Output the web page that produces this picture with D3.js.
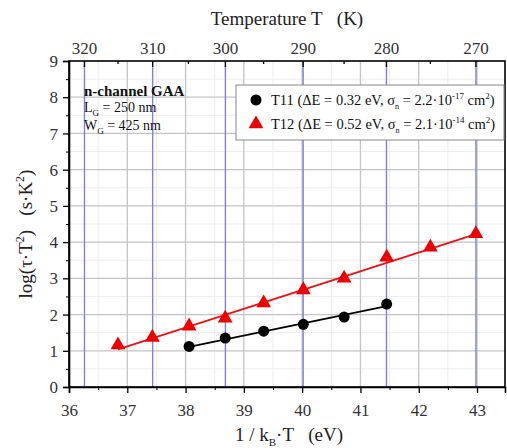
<!DOCTYPE html>
<html><head><meta charset="utf-8">
<script src="https://cdn.jsdelivr.net/npm/d3@7"></script>
<style>body{margin:0;background:#fff}svg, svg text{font-family:"Liberation Serif","Times New Roman",serif !important}</style>
</head><body><svg id="c" width="507" height="448"></svg>
<script>
const xTicks = [36,37,38,39,40,41,42,43];
const yTicks = [0,1,2,3,4,5,6,7,8,9];
const tempTicks = [320,310,300,290,280,270];
const tempMinor = [315,305,295,285,275];
const kB = 8.617e-5;
const t12X = [36.84,37.43,38.06,38.68,39.34,40.02,40.72,41.45,42.20,42.98];
const t12Y = [1.16,1.37,1.68,1.90,2.32,2.68,3.00,3.58,3.86,4.23];
const t11X = [38.06,38.68,39.34,40.02,40.72,41.45];
const t11Y = [1.12,1.35,1.54,1.73,1.93,2.29];
const fit12 = [[36.84,1.04],[42.98,4.22]];
const fit11 = [[38.06,1.11],[41.45,2.23]];

const svg = d3.select('#c');
const L=69, R=505, T=61, B=387;
const x = d3.scaleLinear().domain([36,43.48]).range([L,R]);
const y = d3.scaleLinear().domain([0,9]).range([B,T]);
const tx = t => x(1/(kB*t));

const g = svg.append('g');
const xm = d3.range(36.5,43.5,1), ym = d3.range(0.5,9,1);
g.selectAll('.xm').data(xm).join('line').attr('x1',d=>x(d)).attr('x2',d=>x(d)).attr('y1',T).attr('y2',B).attr('stroke','#ececec').attr('stroke-width',1);
g.selectAll('.ym').data(ym).join('line').attr('x1',L).attr('x2',R).attr('y1',d=>y(d)).attr('y2',d=>y(d)).attr('stroke','#ececec').attr('stroke-width',1);
g.selectAll('.xg').data(xTicks.slice(1)).join('line').attr('x1',d=>x(d)).attr('x2',d=>x(d)).attr('y1',T).attr('y2',B).attr('stroke','#c4c4c4').attr('stroke-width',1.3);
g.selectAll('.yg').data(yTicks.slice(1,-1)).join('line').attr('x1',L).attr('x2',R).attr('y1',d=>y(d)).attr('y2',d=>y(d)).attr('stroke','#c4c4c4').attr('stroke-width',1.3);
g.selectAll('.tg').data(tempTicks).join('line').attr('x1',d=>tx(d)).attr('x2',d=>tx(d)).attr('y1',T).attr('y2',B).attr('stroke','#8080e0').attr('stroke-width',1.4);

const xAxis = d3.axisBottom(x).tickValues(xTicks).tickSize(6).tickFormat(d3.format('d'));
const xa = svg.append('g').attr('transform',`translate(0,${B})`).call(xAxis);
svg.append('g').attr('transform',`translate(0,${B})`).call(d3.axisBottom(x).tickValues(xm).tickSize(3).tickFormat('')).select('.domain').remove();
const ya = svg.append('g').attr('transform',`translate(${L},0)`).call(d3.axisLeft(y).tickValues(yTicks).tickSize(6).tickFormat(d3.format('d')));
svg.append('g').attr('transform',`translate(${L},0)`).call(d3.axisLeft(y).tickValues(ym).tickSize(3).tickFormat('')).select('.domain').remove();
const ta = svg.append('g').attr('transform',`translate(0,${T})`);
ta.selectAll('.tt').data(tempTicks).join('line').attr('x1',d=>tx(d)).attr('x2',d=>tx(d)).attr('y1',0).attr('y2',6).attr('stroke','#000').attr('stroke-width',1.3);
ta.selectAll('.tm').data(tempMinor).join('line').attr('x1',d=>tx(d)).attr('x2',d=>tx(d)).attr('y1',0).attr('y2',3).attr('stroke','#000').attr('stroke-width',1.3);
ta.selectAll('.tl').data(tempTicks).join('text').attr('x',d=>tx(d)).attr('y',-7).attr('text-anchor','middle').attr('font-size',17).attr('fill','#333').text(d=>d);
svg.append('rect').attr('x',L).attr('y',T).attr('width',R-L).attr('height',B-T).attr('fill','none').attr('stroke','#000').attr('stroke-width',1.6);
[xa,ya].forEach(a=>{a.attr('font-family',null);a.selectAll('text').attr('font-size',17).attr('fill','#333');a.selectAll('line').attr('stroke-width',1.3);a.select('.domain').attr('stroke-width',1.6);});
xa.selectAll('text').attr('y',0).attr('dy',null).attr('transform','translate(0,29)');
ya.selectAll('text').attr('x',-11).attr('dy','0.33em');

const line = d3.line().x(d=>x(d[0])).y(d=>y(d[1]));
svg.append('path').attr('d',line(fit12)).attr('stroke','#ee1111').attr('stroke-width',1.8).attr('fill','none');
svg.append('path').attr('d',line(fit11)).attr('stroke','#000').attr('stroke-width',1.8).attr('fill','none');
const tri = d3.symbol().type(d3.symbolTriangle).size(95);
svg.selectAll('.t12').data(t12X).join('path').attr('d',tri).attr('transform',(d,i)=>`translate(${x(d)},${y(t12Y[i])})`).attr('fill','#ee0000');
svg.selectAll('.t11').data(t11X).join('circle').attr('cx',d=>x(d)).attr('cy',(d,i)=>y(t11Y[i])).attr('r',5.5).attr('fill','#000');

const ann = svg.append('g').attr('font-size',14).attr('fill','#111');
ann.append('text').attr('x',84).attr('y',96).attr('font-weight','bold').attr('font-size',15).text('n-channel GAA');
const lg = ann.append('text').attr('x',84).attr('y',112);
lg.append('tspan').text('L');lg.append('tspan').attr('font-size',9).attr('dy',4).text('G');lg.append('tspan').attr('dy',-4).text(' = 250 nm');
const wg = ann.append('text').attr('x',84).attr('y',130);
wg.append('tspan').text('W');wg.append('tspan').attr('font-size',9).attr('dy',4).text('G');wg.append('tspan').attr('dy',-4).text(' = 425 nm');

svg.append('rect').attr('x',236).attr('y',85).attr('width',268).attr('height',55).attr('fill','#fff').attr('stroke','#888').attr('stroke-width',1);
svg.append('circle').attr('cx',256).attr('cy',100).attr('r',5.5).attr('fill','#000');
svg.append('path').attr('d',tri).attr('transform','translate(256,124)').attr('fill','#ee0000');
function legText(yy, name, dE, sig, ex){
  const t = svg.append('text').attr('x',271).attr('y',yy).attr('font-size',14.5).attr('fill','#111');
  t.append('tspan').text(`${name} (ΔE = ${dE} eV, σ`);
  t.append('tspan').attr('font-size',8).attr('dy',4).text('n');
  t.append('tspan').attr('dy',-4).text(` = ${sig}·10`);
  t.append('tspan').attr('font-size',9).attr('dy',-6).text(ex);
  t.append('tspan').attr('dy',6).text(' cm');
  t.append('tspan').attr('font-size',9).attr('dy',-6).text('2');
  t.append('tspan').attr('dy',6).text(')');
}
legText(105,'T11','0.32','2.2','-17');
legText(129,'T12','0.52','2.1','-14');

const tt = svg.append('text').attr('x',287).attr('y',25).attr('text-anchor','middle').attr('font-size',19).attr('fill','#222');
tt.text('Temperature T\u00a0\u00a0\u00a0(K)');
const xl = svg.append('text').attr('x',289).attr('y',441).attr('text-anchor','middle').attr('font-size',19).attr('fill','#222');
xl.append('tspan').text('1 / k');xl.append('tspan').attr('font-size',11).attr('dy',5).text('B');xl.append('tspan').attr('dy',-5).text('·T\u00a0\u00a0\u00a0(eV)');
const yl = svg.append('text').attr('transform','translate(32,234) rotate(-90)').attr('text-anchor','middle').attr('font-size',19).attr('fill','#222');
yl.append('tspan').text('log(τ·T');yl.append('tspan').attr('font-size',12).attr('dy',-8).text('2');yl.append('tspan').attr('dy',8).text(')\u00a0\u00a0\u00a0(s·K');yl.append('tspan').attr('font-size',12).attr('dy',-8).text('2');yl.append('tspan').attr('dy',8).text(')');
</script></body></html>
